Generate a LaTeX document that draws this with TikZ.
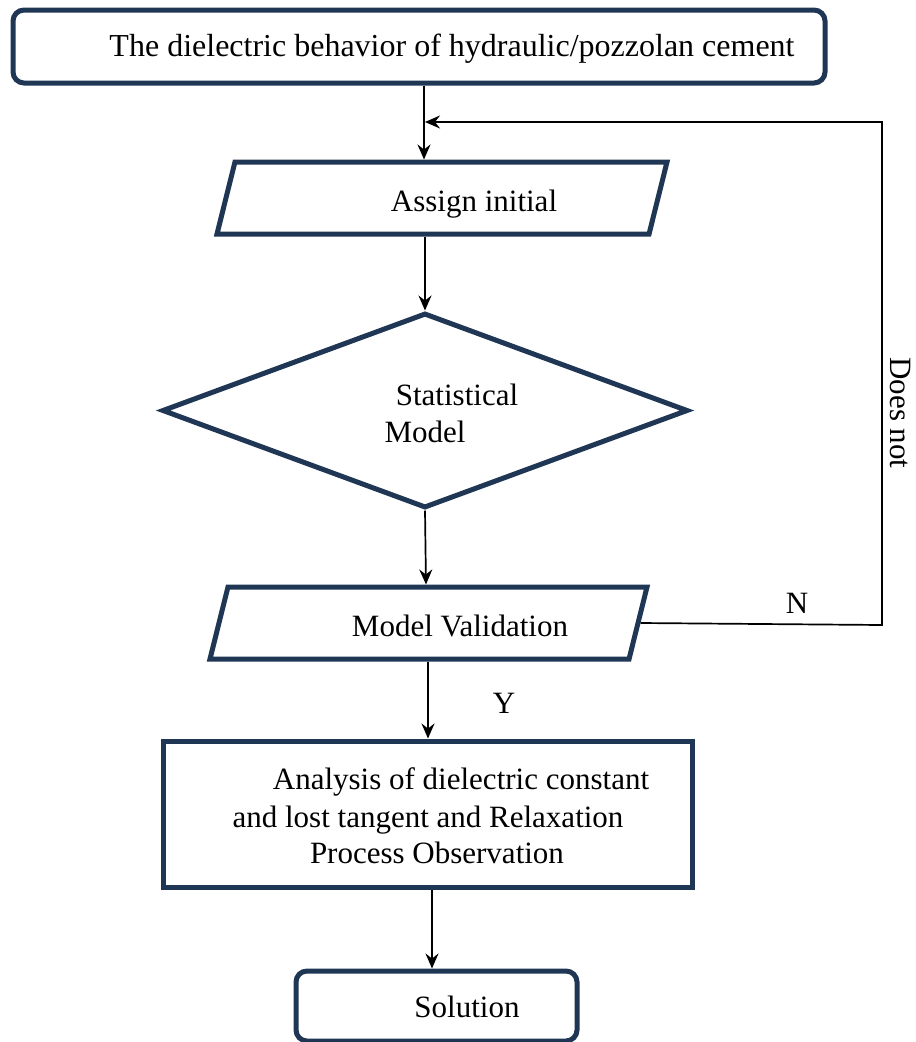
\documentclass[tikz,border=0pt]{standalone}
\usepackage{fontspec}
\setmainfont{Liberation Serif}
\usetikzlibrary{shapes.geometric,arrows.meta}
\definecolor{navy}{RGB}{31,54,84}
\begin{document}
\begin{tikzpicture}[x=1pt,y=-1pt,
  box/.style={draw=navy,line width=5pt,inner sep=2pt,fill=white},
  rbox/.style={box,rectangle,rounded corners=11pt},
  sbox/.style={box,rectangle},
  para/.style={box,trapezium,trapezium left angle=76,trapezium right angle=104,trapezium stretches body=true,inner sep=3pt,text height=66pt,text depth=0pt},
  dec/.style={box,diamond},
  txt/.style={font=\fontsize{31}{36}\selectfont,anchor=base,inner sep=0pt},
  ln/.style={draw=black,line width=1.7pt},
  arr/.style={ln,-{Stealth[length=15pt,width=13pt,inset=5pt]}}]
\useasboundingbox (0,0) rectangle (916,1042);
% shapes
\node[rbox,minimum width=812pt,minimum height=73pt] (top) at (419,46.5) {};
\node[para,minimum width=450pt] (assign) at (442,198) {};
\node[dec,minimum width=526pt,minimum height=195pt] (diam) at (425,410.5) {};
\node[para,minimum width=437pt] (valid) at (428.5,623) {};
\node[sbox,minimum width=529pt,minimum height=146pt] (anal) at (427.5,814) {};
\node[rbox,minimum width=281pt,minimum height=70pt] (sol) at (436.5,1006) {};
% texts
\node[txt,font=\fontsize{32}{36}\selectfont] (t1) at (452,56) {The dielectric behavior of hydraulic/pozzolan cement};
\node[txt] (t2) at (474,211) {Assign initial};
\node[txt] (t3) at (457,405) {Statistical};
\node[txt] (t4) at (425,442) {Model};
\node[txt] (t5) at (460,636) {Model Validation};
\node[txt] (t6) at (461,789) {Analysis of dielectric constant};
\node[txt] (t7) at (428,827) {and lost tangent and Relaxation};
\node[txt] (t8) at (437,863) {Process Observation};
\node[txt] (t9) at (467,1017) {Solution};
\node[txt] (lN) at (797,613) {N};
\node[txt] (lY) at (504,713) {Y};
\node[txt,anchor=center,rotate=-90] (lD) at (900,413) {Does not};
% connector helpers
\coordinate (c1) at (424,0);
\coordinate (c2) at (425,0);
\coordinate (c3) at (426,0);
\coordinate (c4) at (428,0);
\coordinate (c5) at (432,0);
\coordinate (fbR) at (882,625);
\coordinate (fbT) at (882,122);
\coordinate (fbTip) at (425,122);
% connectors
\draw[arr] (top.south -| c1) -- (assign.north -| c1);
\draw[arr] (assign.south -| c2) -- (diam.north);
\draw[arr] (diam.south) -- (valid.north -| c3);
\draw[arr] (valid.south -| c4) -- (anal.north -| c4);
\draw[arr] (anal.south -| c5) -- (sol.north -| c5);
\draw[arr] (valid.east) -- (fbR) -- (fbT) -- (fbTip);
\end{tikzpicture}
\end{document}
